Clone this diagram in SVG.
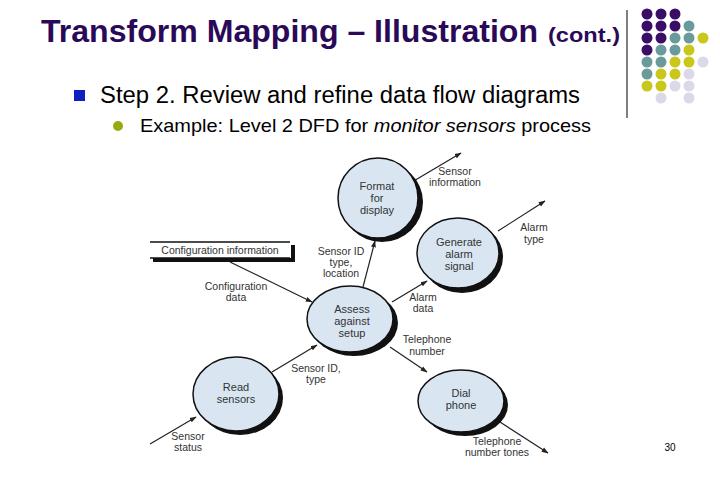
<svg xmlns="http://www.w3.org/2000/svg" width="720" height="480" viewBox="0 0 720 480">
<defs>
<style>
.title{font-family:"Liberation Sans",Arial,sans-serif;font-weight:bold;fill:#2a0a58}
.body{font-family:"Liberation Sans",Arial,sans-serif;fill:#000}
.lbl{font-family:"Liberation Sans",Arial,sans-serif;font-size:10.5px;fill:#333;text-anchor:middle}
.nd{font-family:"Liberation Sans",Arial,sans-serif;font-size:11px;fill:#333;text-anchor:middle}
.bub{fill:#d9e6f2;stroke:#111;stroke-width:1.5}
.shd{fill:#111}
.edge{stroke:#222;stroke-width:1.2;fill:none;marker-end:url(#ah)}
.p{fill:#3a0d66}.t{fill:#6b9a9c}.y{fill:#c9c71c}.l{fill:#d9d9ea}
</style>
<marker id="ah" viewBox="0 0 10 10" refX="9" refY="5" markerWidth="7" markerHeight="7" orient="auto" markerUnits="userSpaceOnUse">
<path d="M0,1.5 L10,5 L0,8.5 z" fill="#222"/>
</marker>
</defs>
<rect width="720" height="480" fill="#fff"/>

<g id="header">
<text class="title" x="41" y="42" font-size="32" textLength="497" lengthAdjust="spacingAndGlyphs">Transform Mapping – Illustration</text>
<text class="title" x="548" y="42" font-size="21" textLength="72" lengthAdjust="spacingAndGlyphs">(cont.)</text>
<line x1="627" y1="10" x2="627" y2="118" stroke="#000" stroke-width="1"/>
<rect x="74" y="90" width="11" height="11" fill="#1020c0"/>
<text class="body" x="100" y="103" font-size="23" textLength="480" lengthAdjust="spacingAndGlyphs">Step 2. Review and refine data flow diagrams</text>
<circle cx="118" cy="126" r="5" fill="#9aa814"/>
<text class="body" x="140" y="132" font-size="19" textLength="451" lengthAdjust="spacingAndGlyphs">Example: Level 2 DFD for <tspan font-style="italic">monitor sensors</tspan> process</text>
<text class="body" x="670" y="451" font-size="10" text-anchor="middle">30</text>
</g>

<g id="dots">
<circle class="p" cx="647" cy="14" r="5.5"/><circle class="p" cx="661" cy="14" r="5.5"/><circle class="p" cx="675" cy="14" r="5.5"/>
<circle class="p" cx="647" cy="26" r="5.5"/><circle class="p" cx="661" cy="26" r="5.5"/><circle class="p" cx="675" cy="26" r="5.5"/><circle class="t" cx="689" cy="26" r="5.5"/>
<circle class="p" cx="647" cy="38" r="5.5"/><circle class="p" cx="661" cy="38" r="5.5"/><circle class="t" cx="675" cy="38" r="5.5"/><circle class="t" cx="689" cy="38" r="5.5"/><circle class="y" cx="703" cy="38" r="5.5"/>
<circle class="p" cx="647" cy="50" r="5.5"/><circle class="t" cx="661" cy="50" r="5.5"/><circle class="t" cx="675" cy="50" r="5.5"/><circle class="y" cx="689" cy="50" r="5.5"/>
<circle class="t" cx="647" cy="62" r="5.5"/><circle class="t" cx="661" cy="62" r="5.5"/><circle class="y" cx="675" cy="62" r="5.5"/><circle class="y" cx="689" cy="62" r="5.5"/><circle class="l" cx="703" cy="62" r="5.5"/>
<circle class="t" cx="647" cy="74" r="5.5"/><circle class="y" cx="661" cy="74" r="5.5"/><circle class="y" cx="675" cy="74" r="5.5"/><circle class="l" cx="689" cy="74" r="5.5"/>
<circle class="y" cx="647" cy="86" r="5.5"/><circle class="y" cx="661" cy="86" r="5.5"/><circle class="l" cx="675" cy="86" r="5.5"/><circle class="l" cx="689" cy="86" r="5.5"/>
<circle class="l" cx="661" cy="98" r="5.5"/><circle class="l" cx="689" cy="98" r="5.5"/>
</g>

<g id="connectors">
<line class="edge" x1="150" y1="444" x2="196" y2="417"/>
<line class="edge" x1="272" y1="372" x2="317" y2="345"/>
<line class="edge" x1="363" y1="287" x2="375" y2="241"/>
<line class="edge" x1="412" y1="182" x2="461" y2="153"/>
<line class="edge" x1="230" y1="262" x2="312" y2="302"/>
<line class="edge" x1="392" y1="302" x2="427" y2="281"/>
<line class="edge" x1="498" y1="231" x2="545" y2="201"/>
<line class="edge" x1="390" y1="347" x2="427" y2="372"/>
<line class="edge" x1="500" y1="422" x2="548" y2="453"/>
<text class="lbl" x="188" y="440">Sensor</text><text class="lbl" x="188" y="451">status</text>
<text class="lbl" x="316" y="372">Sensor ID,</text><text class="lbl" x="316" y="383">type</text>
<text class="lbl" x="341" y="255">Sensor ID</text><text class="lbl" x="341" y="266">type,</text><text class="lbl" x="341" y="277">location</text>
<text class="lbl" x="455" y="175">Sensor</text><text class="lbl" x="455" y="186">information</text>
<text class="lbl" x="236" y="290">Configuration</text><text class="lbl" x="236" y="301">data</text>
<text class="lbl" x="423" y="301">Alarm</text><text class="lbl" x="423" y="312">data</text>
<text class="lbl" x="534" y="231">Alarm</text><text class="lbl" x="534" y="243">type</text>
<text class="lbl" x="427" y="343">Telephone</text><text class="lbl" x="427" y="355">number</text>
<text class="lbl" x="497" y="445">Telephone</text><text class="lbl" x="497" y="456">number tones</text>
</g>

<g id="config-store">
<rect x="153" y="258" width="142" height="4" class="shd"/>
<rect x="291" y="245" width="4" height="17" class="shd"/>
<line x1="150" y1="242" x2="290" y2="242" stroke="#111" stroke-width="1.3"/>
<line x1="150" y1="258" x2="290" y2="258" stroke="#111" stroke-width="1.3"/>
<text class="lbl" x="220" y="254" font-size="11">Configuration information</text>
</g>

<g id="format-for-display">
<ellipse class="shd" cx="382" cy="202" rx="41" ry="40"/>
<ellipse class="bub" cx="378" cy="198" rx="40" ry="40"/>
<text class="nd" x="377" y="190">Format</text><text class="nd" x="377" y="202">for</text><text class="nd" x="377" y="214">display</text>
</g>

<g id="generate-alarm-signal">
<ellipse class="shd" cx="462" cy="257" rx="41" ry="36"/>
<ellipse class="bub" cx="458" cy="253" rx="41" ry="35"/>
<text class="nd" x="459" y="246">Generate</text><text class="nd" x="459" y="258">alarm</text><text class="nd" x="459" y="270">signal</text>
</g>

<g id="assess-against-setup">
<ellipse class="shd" cx="354" cy="323" rx="44" ry="33"/>
<ellipse class="bub" cx="350" cy="319" rx="43" ry="33"/>
<text class="nd" x="352" y="313" font-size="10.5">Assess</text><text class="nd" x="352" y="325">against</text><text class="nd" x="352" y="337">setup</text>
</g>

<g id="read-sensors">
<ellipse class="shd" cx="240" cy="398" rx="43" ry="37"/>
<ellipse class="bub" cx="236" cy="394" rx="43" ry="37"/>
<text class="nd" x="236" y="391">Read</text><text class="nd" x="236" y="403">sensors</text>
</g>

<g id="dial-phone">
<ellipse class="shd" cx="465" cy="405" rx="43" ry="31"/>
<ellipse class="bub" cx="461" cy="401" rx="43" ry="31"/>
<text class="nd" x="461" y="397">Dial</text><text class="nd" x="461" y="409">phone</text>
</g>
</svg>
